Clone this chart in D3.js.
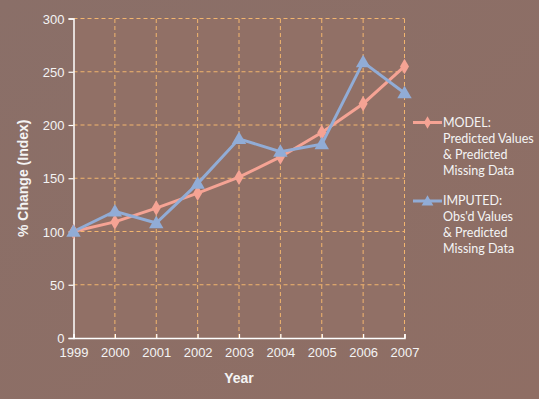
<!DOCTYPE html>
<html>
<head>
<meta charset="utf-8">
<script src="https://d3js.org/d3.v7.min.js"></script>
<style>
  html, body { margin: 0; padding: 0; }
  body { width: 539px; height: 399px; overflow: hidden; }
</style>
</head>
<body>
<div id="chart"></div>
<script>
// data
var years = [1999, 2000, 2001, 2002, 2003, 2004, 2005, 2006, 2007];
var modelValues = [100, 109, 122, 136, 151, 170, 193, 220, 255];
var imputedValues = [100, 119, 108, 145, 187, 175, 182, 259, 230];
var yTicks = [0, 50, 100, 150, 200, 250, 300];
var legendModel = ["MODEL:", "Predicted Values", "& Predicted", "Missing Data"];
var legendImputed = ["IMPUTED:", "Obs'd Values", "& Predicted", "Missing Data"];

var W = 539, H = 399;
var margin = {top: 18.5, right: 134.5, bottom: 61, left: 73.5};

var svg = d3.select("#chart").append("svg")
    .attr("width", W)
    .attr("height", H);

var defs = svg.append("defs");
var grad = defs.append("linearGradient")
    .attr("id", "bg")
    .attr("x1", "0").attr("y1", "0").attr("x2", "1").attr("y2", "1");
grad.append("stop").attr("offset", "0").attr("stop-color", "#8a6f68");
grad.append("stop").attr("offset", "1").attr("stop-color", "#8f6e64");

svg.append("rect")
    .attr("width", W).attr("height", H)
    .attr("fill", "url(#bg)");

var x = d3.scalePoint()
    .domain(years)
    .range([margin.left, W - margin.right]);

var y = d3.scaleLinear()
    .domain([0, 300])
    .range([H - margin.bottom, margin.top]);

// plot area fill
svg.append("rect")
    .attr("x", x(1999)).attr("y", y(300))
    .attr("width", x(2007) - x(1999))
    .attr("height", y(0) - y(300))
    .attr("fill", "#917066");

// gridlines
var gridColor = "#f2b56e";
svg.append("g").selectAll("line")
    .data(yTicks.filter(function(d) { return d > 0; }))
    .enter().append("line")
    .attr("x1", x(1999)).attr("x2", x(2007))
    .attr("y1", function(d) { return y(d); })
    .attr("y2", function(d) { return y(d); })
    .attr("stroke", gridColor)
    .attr("stroke-width", 1)
    .attr("stroke-dasharray", "4,3");

svg.append("g").selectAll("line")
    .data(years.slice(1))
    .enter().append("line")
    .attr("x1", function(d) { return x(d); })
    .attr("x2", function(d) { return x(d); })
    .attr("y1", y(0)).attr("y2", y(300))
    .attr("stroke", gridColor)
    .attr("stroke-width", 1)
    .attr("stroke-dasharray", "4,3");

// axes
var yAxis = svg.append("g")
    .attr("transform", "translate(" + x(1999) + ",0)")
    .call(d3.axisLeft(y).tickValues(yTicks).tickSize(5).tickPadding(4));

var xAxis = svg.append("g")
    .attr("transform", "translate(0," + y(0) + ")")
    .call(d3.axisBottom(x).tickSize(-4).tickPadding(10).tickFormat(d3.format("d")));

[yAxis, xAxis].forEach(function(ax) {
  ax.select(".domain").attr("stroke", "#ffffff").attr("stroke-width", 1.5);
  ax.selectAll(".tick line").attr("stroke", "#ffffff").attr("stroke-width", 1.2);
  ax.selectAll(".tick text")
      .attr("fill", "#f4f4f4")
      .attr("font-family", "Liberation Sans, Arial, sans-serif")
      .attr("font-size", "13px");
});
yAxis.selectAll(".tick text").attr("dy", "0.36em");

// axis titles
svg.append("text")
    .attr("x", (x(1999) + x(2007)) / 2)
    .attr("y", 383)
    .attr("text-anchor", "middle")
    .attr("fill", "#f4f4f4")
    .attr("font-family", "Liberation Sans, Arial, sans-serif")
    .attr("font-weight", "bold")
    .attr("font-size", "14px")
    .text("Year");

svg.append("text")
    .attr("transform", "translate(28," + ((y(0) + y(300)) / 2) + ") rotate(-90)")
    .attr("text-anchor", "middle")
    .attr("fill", "#f4f4f4")
    .attr("font-family", "Liberation Sans, Arial, sans-serif")
    .attr("font-weight", "bold")
    .attr("font-size", "14px")
    .text("% Change (Index)");

// series
var modelColor = "#f5a394";
var imputedColor = "#91acd6";

var line = d3.line()
    .x(function(d, i) { return x(years[i]); })
    .y(function(d) { return y(d); });

svg.append("path")
    .datum(modelValues)
    .attr("d", line)
    .attr("fill", "none")
    .attr("stroke", modelColor)
    .attr("stroke-width", 3);

svg.append("path")
    .datum(imputedValues)
    .attr("d", line)
    .attr("fill", "none")
    .attr("stroke", imputedColor)
    .attr("stroke-width", 3);

var diamond = d3.symbol().type(d3.symbolDiamond).size(70);
var triangle = d3.symbol().type(d3.symbolTriangle).size(90);

svg.append("g").selectAll("path")
    .data(modelValues)
    .enter().append("path")
    .attr("d", diamond)
    .attr("transform", function(d, i) { return "translate(" + x(years[i]) + "," + y(d) + ")"; })
    .attr("fill", modelColor);

svg.append("g").selectAll("path")
    .data(imputedValues)
    .enter().append("path")
    .attr("d", triangle)
    .attr("transform", function(d, i) { return "translate(" + x(years[i]) + "," + (y(d) + 1) + ")"; })
    .attr("fill", imputedColor);

// legend
function drawLegend(lines, color, sym, dy, top) {
  var g = svg.append("g").attr("transform", "translate(413," + top + ")");
  g.append("line")
      .attr("x1", 0).attr("x2", 29)
      .attr("y1", 0).attr("y2", 0)
      .attr("stroke", color)
      .attr("stroke-width", 3);
  g.append("path")
      .attr("d", sym)
      .attr("transform", "translate(14.5," + dy + ")")
      .attr("fill", color);
  g.selectAll("text")
      .data(lines)
      .enter().append("text")
      .attr("x", 30)
      .attr("y", function(d, i) { return i * 16; })
      .attr("dy", "0.35em")
      .attr("fill", "#f4f4f4")
      .attr("font-family", "Lato, Open Sans, sans-serif")
      .attr("font-size", "12.5px")
      .text(function(d) { return d; });
}
drawLegend(legendModel, modelColor, d3.symbol().type(d3.symbolDiamond).size(45), 0, 122.5);
drawLegend(legendImputed, imputedColor, d3.symbol().type(d3.symbolTriangle).size(60), 1, 201);
</script>
</body>
</html>
